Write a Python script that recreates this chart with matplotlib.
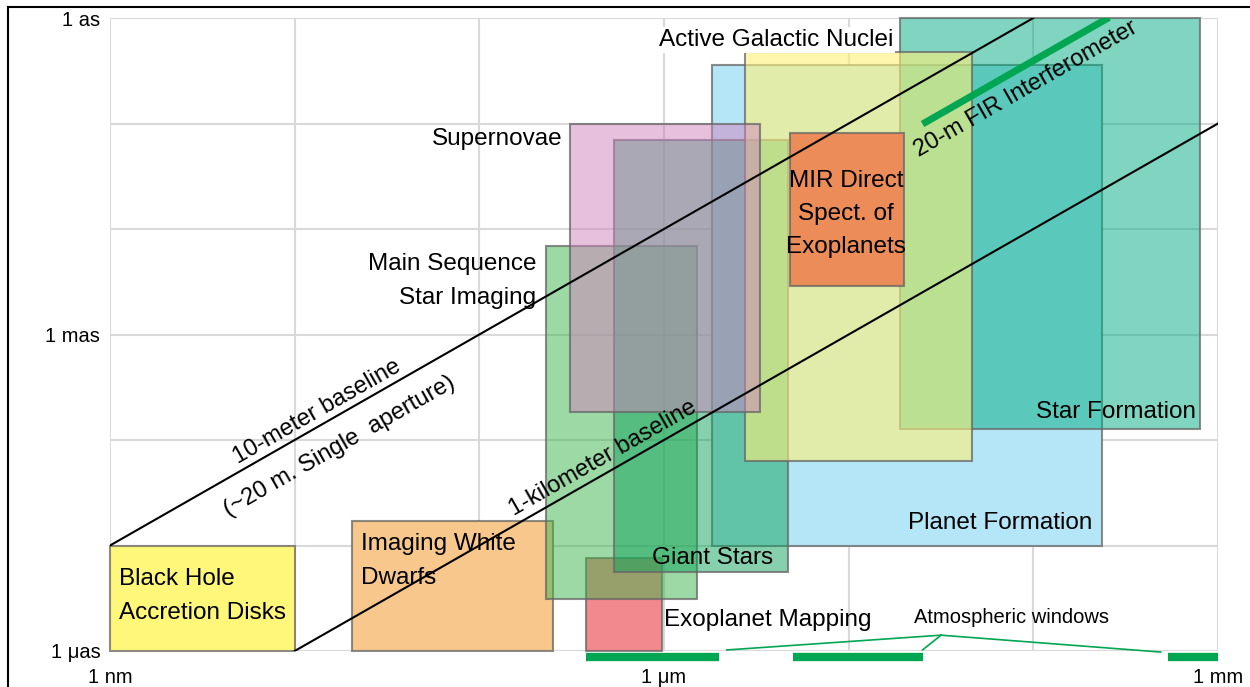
# Angular resolution vs wavelength: science regions and baselines
import matplotlib
matplotlib.use("Agg")
from matplotlib import pyplot as plt
from matplotlib.patches import Rectangle
from matplotlib.lines import Line2D
import numpy as np

plt.rcParams['font.family'] = ['Liberation Sans', 'DejaVu Sans']

# Data: log10(wavelength / m) and log10(resolution / arcsec)
# (listed in drawing order)
names = ["Black Hole", "White Dwarfs", "Exoplanet Mapping", "Planet Formation",
         "Star Formation", "Main Sequence", "Giant Stars", "AGN", "Supernovae", "MIR"]
x_lo = [-9.0, -7.69, -6.42, -5.74, -4.72, -6.64, -6.27, -5.56, -6.51, -5.32]
x_hi = [-8.0, -6.60, -6.01, -3.63, -3.10, -5.82, -5.33, -4.33, -5.48, -4.70]
y_lo = [-6.0, -6.0, -6.0, -5.0, -3.90, -5.51, -5.25, -4.20, -3.73, -2.54]
y_hi = [-5.0, -4.77, -5.12, -0.45, 0.0, -2.16, -1.16, -0.32, -1.00, -1.09]
colors = [(1.0, 0.97, 0.48, 1.0), (0.97, 0.78, 0.55, 1.0), (0.90, 0.08, 0.12, 0.5),
          (0.71, 0.90, 0.97, 1.0), (0.0, 0.68, 0.50, 0.5), (0.24, 0.71, 0.29, 0.5),
          (0.06, 0.64, 0.36, 0.5), (1.0, 0.94, 0.47, 0.6), (0.82, 0.51, 0.75, 0.5),
          (0.92, 0.55, 0.35, 1.0)]

# baselines: log(res) = log(lambda) + offset
base_10m = [-9.0, -4.0]
base_1km = [-8.0, -3.0]
fir_x = [-4.60, -3.59]
fir_off = 3.595

# atmospheric windows (log wavelength)
win_lo = [-6.42, -5.30, -3.27]
win_hi = [-5.70, -4.60, -3.00]

fig = plt.figure(figsize=(12.5, 6.87), dpi=100)
ax = fig.add_axes([110/1250, 1-651/687, 1108/1250, 633/687])
ax.set_xlim(-9, -3)
ax.set_ylim(-6, 0)
for s in ax.spines.values():
    s.set_visible(False)

# grid every decade
for gx in range(-9, -2):
    ax.axvline(gx, color='#d9d9d9', lw=1.5, zorder=0)
for gy in range(-6, 1):
    ax.axhline(gy, color='#d9d9d9', lw=1.5, zorder=0)

for i in range(len(names)):
    r = Rectangle((x_lo[i], y_lo[i]), x_hi[i]-x_lo[i], y_hi[i]-y_lo[i],
                  facecolor=colors[i], edgecolor=(0.4, 0.4, 0.4, 0.75),
                  lw=1.5, zorder=2+i, clip_on=False)
    ax.add_patch(r)

# baselines
bx = np.array(base_10m)
ax.plot(bx, bx+4, 'k', lw=1.5, zorder=20)
bx = np.array(base_1km)
ax.plot(bx, bx+2, 'k', lw=1.5, zorder=20)
fx = np.array(fir_x)
ax.plot(fx, fx+fir_off, color='#00a651', lw=5, zorder=21, solid_capstyle='butt')

rk = dict(rotation=45, transform_rotates_text=True, rotation_mode='anchor',
          fontsize=17, zorder=25, ha='center')
ax.text(-7.85, -3.85+0.03, "10-meter baseline", va='bottom', **rk)
ax.text(-7.787, -3.967, "(~20 m. Single  aperture)", va='top', **rk)
ax.text(-6.30, -4.30+0.04, "1-kilometer baseline", va='bottom', **rk)
ax.text(-4.071, -0.581, "20-m FIR Interferometer", va='top', **rk)

# labels
fs = 17.5
ls = 1.7
ax.text(-8.95, -5.48, "Black Hole\nAccretion Disks", fontsize=fs, va='center',
        ha='left', linespacing=ls, zorder=30)
ax.text(-7.64, -5.147, "Imaging White\nDwarfs", fontsize=fs, va='center',
        ha='left', linespacing=ls, zorder=30)
ax.text(-6.69, -2.493, "Main Sequence\nStar Imaging", fontsize=fs, va='center',
        ha='right', linespacing=ls, zorder=30, multialignment='right')
ax.text(-6.55, -1.15, "Supernovae", fontsize=fs, va='center', ha='right', zorder=30)
ax.text(-4.76, -0.21, "Active Galactic Nuclei", fontsize=fs, va='center', ha='right',
        zorder=30, bbox=dict(facecolor='white', edgecolor='none', pad=1.5))
ax.text(-5.015, -1.858, "MIR Direct\nSpect. of\nExoplanets", fontsize=fs, va='center',
        ha='center', linespacing=1.65, zorder=30)
ax.text(-3.12, -3.73, "Star Formation", fontsize=fs, va='center', ha='right', zorder=30)
ax.text(-3.68, -4.79, "Planet Formation", fontsize=fs, va='center', ha='right', zorder=30)
ax.text(-6.065, -5.12, "Giant Stars", fontsize=fs, va='center', ha='left', zorder=30)
ax.text(-6.00, -5.71, "Exoplanet Mapping", fontsize=fs, va='center', ha='left', zorder=30)

# atmospheric windows
for a, b in zip(win_lo, win_hi):
    ax.plot([a, b], [-6.057, -6.057], color='#00a651', lw=6, solid_capstyle='butt',
            clip_on=False, zorder=30)
vx, vy = -4.50, -5.85
ax.plot([-5.66, vx], [-5.99, vy], color='#00a651', lw=1.2, clip_on=False, zorder=30)
ax.plot([-4.60, vx], [-5.99, vy], color='#00a651', lw=1.2, clip_on=False, zorder=30)
ax.plot([-3.31, vx], [-6.01, vy], color='#00a651', lw=1.2, clip_on=False, zorder=30)
ax.text(-4.116, -5.687, "Atmospheric windows", fontsize=14.5, va='center', ha='center',
        zorder=30)

# axis labels
ax.set_xticks([-9, -6, -3], ["1 nm", "1 \u03bcm", "1 mm"])
ax.set_yticks([-6, -3, 0], ["1 \u03bcas", "1 mas", "1 as"])
ax.tick_params(length=0, labelsize=14.5)
ax.tick_params(axis='x', pad=12)
ax.tick_params(axis='y', pad=7)

# outer frame (top and left)
fig.add_artist(Line2D([8/1250, 8/1250], [0, 1-7/687], color='k', lw=1.5))
fig.add_artist(Line2D([8/1250, 1], [1-7/687, 1-7/687], color='k', lw=1.5))

fig.savefig("out.png", dpi=100)
